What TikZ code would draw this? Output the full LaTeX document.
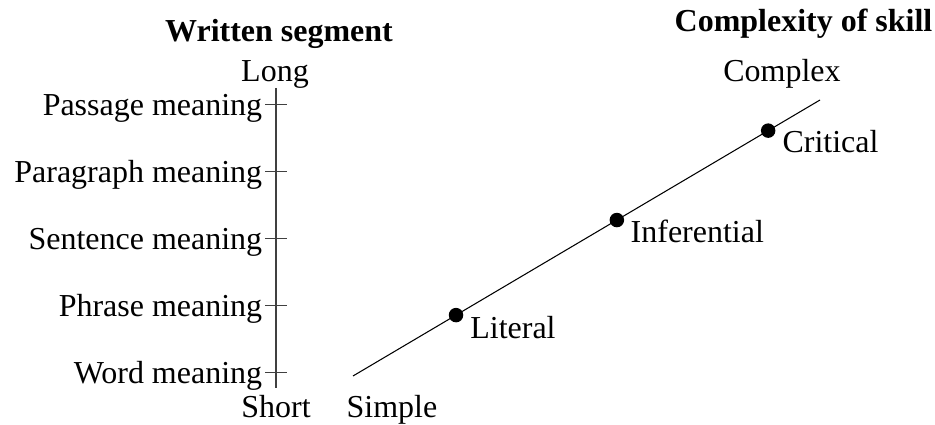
\documentclass[tikz,border=0pt]{standalone}
\usepackage{fontspec}
\setmainfont{Liberation Serif}
\usepackage{tikz}
\usetikzlibrary{positioning,calc}
\definecolor{AxisGray}{HTML}{404040}
\tikzset{
    % Base text style
    basetext/.style={
        inner sep=0pt,
        font=\fontsize{18.2}{21}\selectfont
    },
    % Heading above each scale
    headtext/.style={
        basetext,
        anchor=base,
        font=\fontsize{18.2}{21}\selectfont\bfseries
    },
    % Scale end words
    endtext/.style={
        basetext,
        anchor=base
    },
    % Level names left of the axis
    leveltext/.style={
        basetext,
        anchor=base east
    },
    % Skill names next to the dots
    skilltext/.style={
        basetext,
        anchor=base west
    },
    % Dot on the skill line
    skilldot/.style={
        circle,
        fill=black,
        inner sep=0pt,
        minimum size=0.29cm
    },
    % Axis line
    axisline/.style={
        line width=1.1pt,
        draw=AxisGray
    },
    % Tick mark
    tickline/.style={
        line width=0.6pt,
        draw=AxisGray
    },
    % Skill line
    skillline/.style={
        line width=0.6pt,
        draw=black
    }
}
\begin{document}
\begin{tikzpicture}
    \useasboundingbox (0,0) rectangle (18.7,8.5);

    % Written segment scale
    \node[headtext] (seghead) at (5.58,7.66) {Written segment};
    \node[endtext] (long) at (5.50,6.86) {Long};
    \node[endtext] (short) at (5.52,0.14) {Short};
    \coordinate (axtop) at (5.52,6.74);
    \coordinate (axbot) at (5.52,0.74);
    \draw[axisline] (axtop) -- (axbot);

    % Levels with ticks
    \foreach \name/\lvl/\y in {word/Word meaning/1.05, phrase/Phrase meaning/2.39,
        sentence/Sentence meaning/3.73, paragraph/Paragraph meaning/5.07,
        passage/Passage meaning/6.41} {
        \coordinate (\name) at (5.52,\y);
        \draw[tickline] ([xshift=-0.22cm]\name) -- ([xshift=0.22cm]\name);
        \node[leveltext] (\name-lbl) at ([xshift=-0.27cm, yshift=-0.22cm]\name) {\lvl};
    }

    % Complexity of skill scale
    \node[headtext] (skillhead) at (16.07,7.86) {Complexity of skill};
    \node[endtext] (complex) at (15.64,6.86) {Complex};
    \node[endtext] (simple) at (7.84,0.14) {Simple};
    \coordinate (lnlow) at (7.06,0.98);
    \coordinate (lnhigh) at (16.40,6.50);
    \draw[skillline] (lnlow) -- (lnhigh)
        node[skilldot, pos=0.2206] (literal) {}
        node[skilldot, pos=0.565] (inferential) {}
        node[skilldot, pos=0.889] (critical) {};

    % Skill names
    \node[skilltext] (literal-lbl) at ([shift={(0.28,-0.47)}]literal.center) {Literal};
    \node[skilltext] (inferential-lbl) at ([shift={(0.27,-0.45)}]inferential.center) {Inferential};
    \node[skilltext] (critical-lbl) at ([shift={(0.28,-0.44)}]critical.center) {Critical};
\end{tikzpicture}
\end{document}
